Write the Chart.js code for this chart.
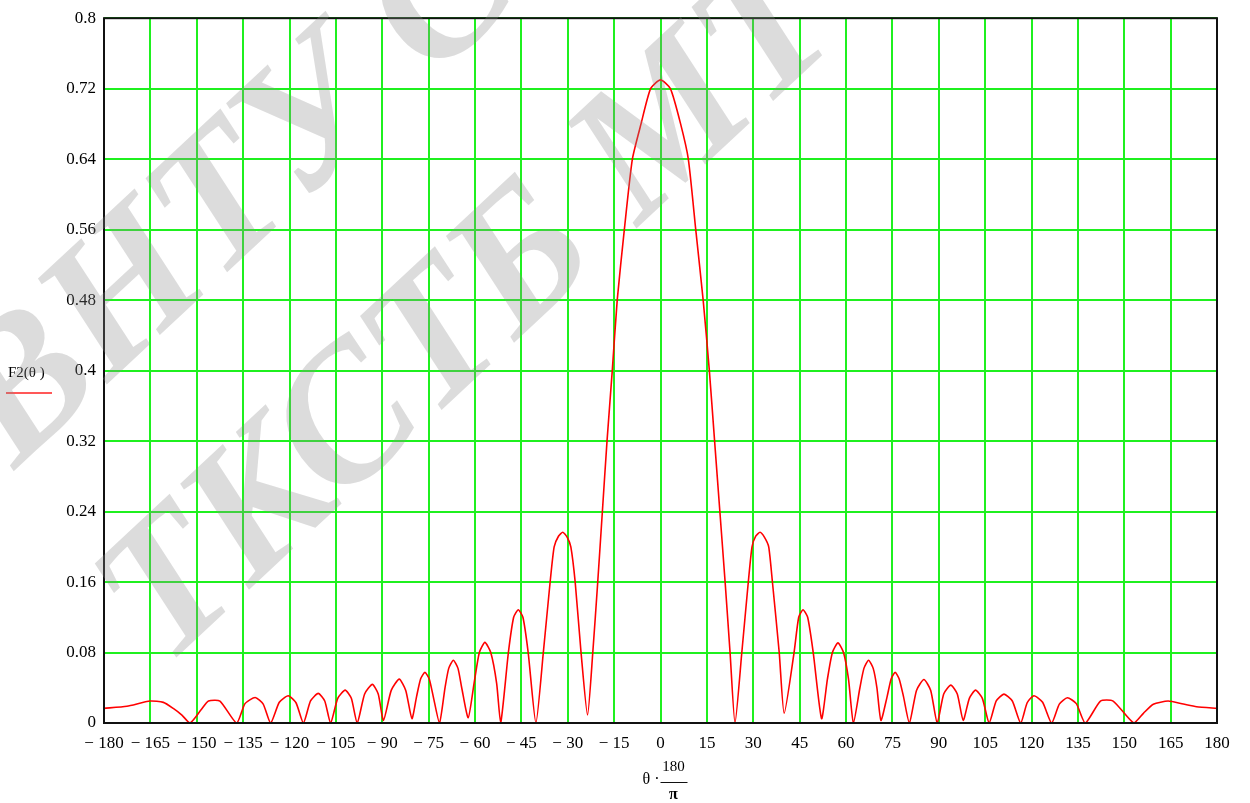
<!DOCTYPE html>
<html>
<head>
<meta charset="utf-8">
<script src="https://cdn.jsdelivr.net/npm/chart.js@4.4.1/dist/chart.umd.min.js"></script>
<style>
  body { margin: 0; background: #fff; }
  #wrap { width: 1250px; height: 803px; }
</style>
</head>
<body>
<div id="wrap"><canvas id="plot" width="1250" height="803"></canvas></div>
<script>
// angle, degrees (theta*180/pi)
const angleDeg = [
  -180, -172.6, -165.1, -160.8, -157.6, -154.8, -152.2, -148.6, -146.2, -142.5, -137.1,
  -134.4, -131.1, -128.5, -126.1, -123.3, -120.4, -117.9, -115.5,
  -113.2, -110.7, -108.6, -106.7, -104.4, -102.0, -100.0, -98.1,
  -95.7, -93.2, -91.3, -89.6, -87.1, -84.5, -82.4, -80.4,
  -78.9, -77.6, -76.2, -74.8, -73.5, -71.5, -69.7, -68.5, -67.0, -65.5, -64.3, -62.2,
  -60.3, -58.6, -56.8, -54.9, -53.0, -51.7, -49.2, -47.5, -46.0, -44.5, -42.8, -40.3,
  -37.9, -35.7, -34.4, -33.0, -31.6, -30.2, -29.0, -27.6, -25.7, -23.6,
  -21.9, -20.3, -18.8, -17.3, -15.6, -14.0, -11.7, -9.1, -6.3, -3.2, 0,
  3.2, 6.5, 9.0, 11.4, 13.8, 15.8, 17.5, 19.2, 20.9, 22.5, 24.1,
  26.3, 28.4, 29.6, 30.8, 32.2, 33.6, 35.0, 36.2, 38.4, 40.0,
  43.2, 44.7, 46.1, 47.6, 49.4, 52.1, 54.0, 55.6, 57.4, 59.2, 60.8, 62.4,
  64.5, 65.8, 67.3, 68.8, 70.0, 71.3, 73.3, 74.6, 75.9, 77.2, 78.6, 80.5,
  82.8, 85.2, 87.4, 89.5, 91.6, 93.9, 96.0, 97.9, 99.9, 101.9, 104.1, 106.3,
  108.6, 111.1, 113.8, 116.5, 118.6, 120.8, 123.6, 126.5, 129.0, 131.6, 134.5, 137.4,
  142.3, 146.4, 153.1, 156.2, 159.4, 164.2, 169.1, 173.4, 180
];
// F2(theta)
const gainF2 = [
  0.0166, 0.019, 0.0249, 0.0234, 0.0166, 0.009, 0, 0.015, 0.0249, 0.0249, 0,
  0.022, 0.029, 0.0215, 0, 0.0235, 0.0309, 0.023, 0,
  0.025, 0.0336, 0.025, 0, 0.028, 0.0373, 0.028, 0,
  0.033, 0.0438, 0.033, 0.003, 0.037, 0.0498, 0.037, 0.005,
  0.03, 0.05, 0.0575, 0.05, 0.03, 0, 0.04, 0.062, 0.0713, 0.062, 0.04, 0.006,
  0.045, 0.08, 0.0915, 0.08, 0.045, 0, 0.08, 0.12, 0.1286, 0.12, 0.08, 0,
  0.08, 0.16, 0.2, 0.212, 0.2165, 0.211, 0.2, 0.16, 0.08, 0.009,
  0.08, 0.16, 0.24, 0.32, 0.40, 0.48, 0.56, 0.64, 0.68, 0.72, 0.73,
  0.72, 0.68, 0.64, 0.56, 0.48, 0.40, 0.32, 0.24, 0.16, 0.08, 0,
  0.08, 0.16, 0.2, 0.212, 0.2165, 0.211, 0.2, 0.16, 0.08, 0.011,
  0.08, 0.12, 0.1286, 0.12, 0.08, 0.005, 0.05, 0.08, 0.091, 0.08, 0.05, 0,
  0.04, 0.062, 0.0713, 0.062, 0.04, 0.003, 0.03, 0.05, 0.0575, 0.05, 0.03, 0,
  0.037, 0.0494, 0.037, 0, 0.033, 0.043, 0.033, 0.003, 0.028, 0.0373, 0.028, 0,
  0.025, 0.0328, 0.025, 0, 0.023, 0.031, 0.0235, 0, 0.0215, 0.0287, 0.022, 0,
  0.0249, 0.0249, 0, 0.011, 0.0213, 0.0249, 0.0215, 0.0185, 0.0166
];
const xTicks = [-180, -165, -150, -135, -120, -105, -90, -75, -60, -45, -30, -15, 0,
  15, 30, 45, 60, 75, 90, 105, 120, 135, 150, 165, 180];
const yTicks = [0, 0.08, 0.16, 0.24, 0.32, 0.4, 0.48, 0.56, 0.64, 0.72, 0.8];
const legendText = 'F2(\u03b8 )';
const watermarkLines = ['ВНТУ С', 'ТКСТБ МТ'];

const GRID = '#1ff01f';
const TICKFONT = { family: '"Liberation Serif", "Times New Roman", serif', size: 17 };

const points = angleDeg.map((a, i) => ({ x: a, y: gainF2[i] }));

// frame, axis title, legend label and watermark
const decor = {
  id: 'decor',
  afterDatasetsDraw(chart) {
    const { ctx, chartArea: { left, top, right, bottom } } = chart;
    ctx.save();
    ctx.strokeStyle = '#111';
    ctx.lineWidth = 2;
    ctx.strokeRect(left, top, right - left, bottom - top);

    // x title: theta * 180 / pi
    const cx = chart.scales.x.getPixelForValue(0);
    ctx.fillStyle = '#000';
    ctx.font = '16px "Liberation Serif", serif';
    ctx.textBaseline = 'middle';
    ctx.textAlign = 'right';
    ctx.fillText('\u03b8 \u00b7', cx - 1, 780);
    ctx.textAlign = 'center';
    ctx.font = '15px "Liberation Serif", serif';
    ctx.fillText('180', cx + 13, 767);
    ctx.font = 'bold 16px "Liberation Serif", serif';
    ctx.fillText('\u03c0', cx + 13, 795);
    ctx.beginPath();
    ctx.lineWidth = 1;
    ctx.moveTo(cx, 782.5);
    ctx.lineTo(cx + 27, 782.5);
    ctx.stroke();

    // series label on the left
    ctx.font = '15px "Liberation Serif", serif';
    ctx.textAlign = 'left';
    ctx.fillText(legendText, 8, 373);
    ctx.beginPath();
    ctx.strokeStyle = '#ff2020';
    ctx.lineWidth = 1.5;
    ctx.moveTo(6, 393);
    ctx.lineTo(52, 393);
    ctx.stroke();
    ctx.restore();
  },
  afterDraw(chart) {
    const ctx = chart.ctx;
    ctx.save();
    ctx.fillStyle = 'rgba(140,140,140,0.30)';
    ctx.font = 'italic bold 190px "Liberation Serif", serif';
    ctx.textBaseline = 'alphabetic';
    ctx.textAlign = 'left';
    const starts = [[15, 470], [165, 668]];
    watermarkLines.forEach((txt, i) => {
      ctx.save();
      ctx.translate(starts[i][0], starts[i][1]);
      ctx.rotate(-43 * Math.PI / 180);
      ctx.fillText(txt, 0, 0);
      ctx.restore();
    });
    ctx.restore();
  }
};

const config = {
  type: 'line',
  data: {
    datasets: [{
      label: 'F2',
      data: points,
      borderColor: '#ff0000',
      borderWidth: 1.6,
      pointRadius: 0,
      tension: 0.2,
      fill: false
    }]
  },
  options: {
    responsive: false,
    animation: false,
    layout: { padding: { top: 16, right: 33, left: 0, bottom: 0 } },
    plugins: { legend: { display: false }, tooltip: { enabled: false } },
    scales: {
      x: {
        type: 'linear',
        min: -180,
        max: 180,
        afterFit(s) { s.height = 80; },
        afterBuildTicks(s) { s.ticks = xTicks.map(v => ({ value: v })); },
        grid: { color: GRID, lineWidth: 2, drawTicks: false },
        border: { display: false },
        ticks: {
          font: TICKFONT,
          color: '#000',
          padding: 10,
          maxRotation: 0,
          autoSkip: false,
          callback: v => v < 0 ? '\u2212 ' + Math.abs(v) : String(v)
        }
      },
      y: {
        min: 0,
        max: 0.8,
        afterFit(s) { s.width = 104; },
        afterBuildTicks(s) { s.ticks = yTicks.map(v => ({ value: v })); },
        grid: { color: GRID, lineWidth: 2, drawTicks: false },
        border: { display: false },
        ticks: {
          font: TICKFONT,
          color: '#000',
          padding: 8,
          autoSkip: false,
          callback: v => String(Number(v.toFixed(2)))
        }
      }
    }
  },
  plugins: [decor]
};

new Chart(document.getElementById('plot'), config);
</script>
</body>
</html>
